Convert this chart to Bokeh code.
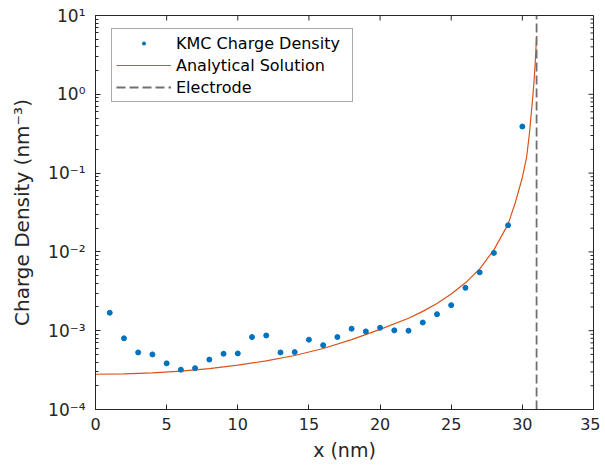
from bokeh.plotting import figure
from bokeh.models import (LogTicker, SingleIntervalTicker, CustomJSTickFormatter,
                          Legend, LegendItem, Range1d)
from bokeh.embed import file_html
from bokeh.resources import INLINE

# ---------------- data ----------------
kmc_x = list(range(1, 31))
kmc_density = [1.69e-3, 8.0e-4, 5.3e-4, 5.0e-4, 3.85e-4, 3.2e-4, 3.35e-4, 4.3e-4,
               5.1e-4, 5.15e-4, 8.3e-4, 8.7e-4, 5.3e-4, 5.35e-4, 7.7e-4, 6.55e-4,
               8.3e-4, 1.06e-3, 9.8e-4, 1.09e-3, 1.01e-3, 1.0e-3, 1.27e-3, 1.62e-3,
               2.11e-3, 3.5e-3, 5.5e-3, 9.7e-3, 2.18e-2, 0.39]

analytic_x = [0, 2, 4, 6, 8, 10, 12, 14, 16, 18, 20, 22, 23, 24, 25, 26, 27, 28,
              29, 29.5, 30, 30.3, 30.5, 30.7, 30.8, 30.9, 30.95, 31.0]
analytic_density = [2.80e-4, 2.83e-4, 2.92e-4, 3.07e-4, 3.31e-4, 3.65e-4, 4.14e-4,
                    4.84e-4, 5.95e-4, 7.7e-4, 1.04e-3, 1.44e-3, 1.76e-3, 2.22e-3,
                    2.92e-3, 4.05e-3, 6.1e-3, 1.06e-2, 2.25e-2, 4.2e-2, 8.8e-2, 0.16,
                    0.32, 0.8, 1.3, 2.4, 3.6, 5.5]

electrode_x = 31
x_limits = (0, 35)
y_limits = (1e-4, 10)
x_ticks = [0, 5, 10, 15, 20, 25, 30, 35]
y_decades = [1e-4, 1e-3, 1e-2, 1e-1, 1e0, 1e1]

FONT = "DejaVu Sans"
AXC = "#262626"

p = figure(width=600, height=464, output_backend="svg", toolbar_location=None,
           y_axis_type="log",
           x_range=Range1d(*x_limits), y_range=Range1d(*y_limits),
           min_border_left=95, min_border_right=7, min_border_top=15,
           min_border_bottom=55)
p.background_fill_color = "white"
p.border_fill_color = "white"
p.grid.visible = False
p.outline_line_color = AXC
p.outline_line_width = 1

sup_js = """
const sup = {"-":"\u207b","0":"\u2070","1":"\u00b9","2":"\u00b2","3":"\u00b3","4":"\u2074",
             "5":"\u2075","6":"\u2076","7":"\u2077","8":"\u2078","9":"\u2079"};
const e = Math.round(Math.log10(tick));
return "10" + String(e).split("").map(c => sup[c]).join("");
"""

def style_axis(ax):
    ax.axis_line_color = AXC
    ax.major_tick_line_color = AXC
    ax.minor_tick_line_color = AXC
    ax.major_tick_in = 5
    ax.major_tick_out = 0
    ax.minor_tick_in = 3
    ax.minor_tick_out = 0
    ax.major_label_text_font = FONT
    ax.major_label_text_font_size = "16px"
    ax.major_label_text_color = AXC
    ax.axis_label_text_font = FONT
    ax.axis_label_text_font_size = "19px"
    ax.axis_label_text_font_style = "normal"
    ax.axis_label_text_color = AXC

# bottom x axis
xa = p.xaxis[0]
xa.ticker = SingleIntervalTicker(interval=5, num_minor_ticks=0)
xa.axis_label = "x (nm)"
style_axis(xa)
xa.major_label_standoff = 8
xa.axis_label_standoff = 6

# left y axis
ya = p.yaxis[0]
ya.ticker = LogTicker(desired_num_ticks=6, num_minor_ticks=10)
ya.formatter = CustomJSTickFormatter(code=sup_js)
ya.axis_label = "Charge Density (nm\u207b\u00b3)"
style_axis(ya)
ya.major_label_text_font_size = "17px"
ya.axis_label_text_font_size = "20px"
ya.major_label_standoff = 10
ya.axis_label_standoff = 11

# box ticks on the top and right edges (inward), derived from the axis scales
px_per_x = 498 / (x_limits[1] - x_limits[0])
px_per_decade = 394 / 5
top_len = 10 ** (5 / px_per_decade)
p.segment(x0=x_ticks, y0=[y_limits[1]] * len(x_ticks),
          x1=x_ticks, y1=[y_limits[1] / top_len] * len(x_ticks),
          line_color=AXC, line_width=1)
minor_y = [d * m for d in y_decades[:-1] for m in range(2, 10)]
p.segment(x0=[x_limits[1]] * len(y_decades), y0=y_decades,
          x1=[x_limits[1] - 5 / px_per_x] * len(y_decades), y1=y_decades,
          line_color=AXC, line_width=1)
p.segment(x0=[x_limits[1]] * len(minor_y), y0=minor_y,
          x1=[x_limits[1] - 3 / px_per_x] * len(minor_y), y1=minor_y,
          line_color=AXC, line_width=1)

# glyphs
r_an = p.line(analytic_x, analytic_density, line_color="#D95319", line_width=1.2)
r_el = p.line([electrode_x, electrode_x], list(y_limits), line_color="#707070",
              line_width=1.8, line_dash="9 4")
r_kmc = p.scatter(kmc_x, kmc_density, size=5, marker="circle",
                  fill_color="#0072BD", line_color="#0072BD")

legend = Legend(items=[LegendItem(label="KMC Charge Density", renderers=[r_kmc]),
                       LegendItem(label="Analytical Solution", renderers=[r_an]),
                       LegendItem(label="Electrode", renderers=[r_el])],
                location=(16, 307))
legend.label_text_font = FONT
legend.label_text_font_size = "16px"
legend.label_text_color = "black"
legend.border_line_color = "#555555"
legend.border_line_width = 1
legend.background_fill_color = "white"
legend.background_fill_alpha = 1
legend.padding = 4
legend.spacing = 2
legend.label_height = 20
legend.label_width = 172
legend.glyph_height = 8
legend.glyph_width = 55
legend.label_standoff = 5
legend.margin = 0
p.add_layout(legend, "center")

open("out.html", "w").write(file_html(p, INLINE))
